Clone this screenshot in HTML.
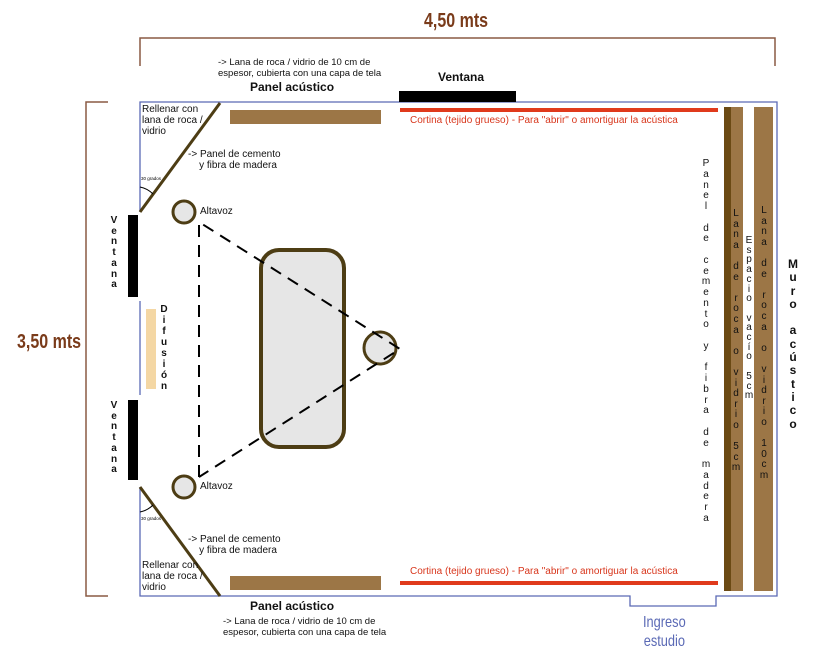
<!DOCTYPE html>
<html><head><meta charset="utf-8"><style>
html,body{margin:0;padding:0;background:#fff;}
#c{position:relative;width:840px;height:662px;overflow:hidden;font-family:"Liberation Sans",sans-serif;}
svg{position:absolute;left:0;top:0;}
.t{position:absolute;font-size:10.5px;color:#111;line-height:12px;white-space:nowrap;}
.v{position:absolute;white-space:pre;text-align:center;font-size:10px;width:14px;color:#111;}
.vb{font-weight:bold;}
.dim{position:absolute;font-family:"Liberation Sans",sans-serif;font-weight:bold;color:#7a3b1a;font-size:20px;transform:scaleX(0.8);transform-origin:0 0;white-space:nowrap;}
.red{position:absolute;color:#d8361c;font-size:10.5px;white-space:nowrap;}
</style></head><body><div id="c">
<svg width="840" height="662">
<path d="M140 66 V38 H775 V66" fill="none" stroke="#8a5a44" stroke-width="1.5"/>
<path d="M108 102 H86 V596 H108" fill="none" stroke="#8a5a44" stroke-width="1.5"/>
<path d="M140 212 V102 H777 V596 H716 V606 H630 V596 H140 V487" fill="none" stroke="#5a69b5" stroke-width="1.3"/>
<line x1="140" y1="301" x2="140" y2="395" stroke="#5a69b5" stroke-width="1.3"/>
<line x1="140" y1="212" x2="220" y2="103" stroke="#4d3d14" stroke-width="3"/>
<line x1="140" y1="487" x2="220" y2="596" stroke="#4d3d14" stroke-width="3"/>
<path d="M140 187 A25 25 0 0 1 153 194" fill="none" stroke="#000" stroke-width="1"/>
<path d="M140 512 A25 25 0 0 0 153 505" fill="none" stroke="#000" stroke-width="1"/>
<rect x="230" y="110" width="151" height="14" fill="#9c7646"/>
<rect x="230" y="576" width="151" height="14" fill="#9c7646"/>
<rect x="399" y="91" width="117" height="11" fill="#000"/>
<rect x="128" y="215" width="10" height="82" fill="#000"/>
<rect x="128" y="400" width="10" height="80" fill="#000"/>
<rect x="146" y="309" width="10" height="80" fill="#f4d7a4"/>
<rect x="400" y="108" width="318" height="4" fill="#e03a1c"/>
<rect x="400" y="581" width="318" height="4" fill="#e03a1c"/>
<rect x="724" y="107" width="7" height="484" fill="#6b4a14"/>
<rect x="731" y="107" width="12" height="484" fill="#9c7646"/>
<rect x="754" y="107" width="19" height="484" fill="#9c7646"/>
<rect x="261" y="250" width="83" height="197" rx="18" fill="#e6e6e6" stroke="#4d3d14" stroke-width="4"/>
<circle cx="184" cy="212" r="11" fill="#e6e6e6" stroke="#4d3d14" stroke-width="3"/>
<circle cx="184" cy="487" r="11" fill="#e6e6e6" stroke="#4d3d14" stroke-width="3"/>
<circle cx="380" cy="348" r="16" fill="#e6e6e6" stroke="#4d3d14" stroke-width="3"/>
<path d="M199 477 V222 L400 349 L199 477" fill="none" stroke="#000" stroke-width="2" stroke-dasharray="12,8"/>
<text x="141" y="180" font-size="4.5" font-family="Liberation Sans">30 grados</text>
<text x="141" y="520" font-size="4.5" font-family="Liberation Sans">30 grados</text>
</svg>
<div class="dim" style="left:424px;top:10px;">4,50 mts</div>
<div class="dim" style="left:17px;top:331px;">3,50 mts</div>
<div class="t" style="left:218px;top:57px;font-size:9.5px;line-height:11px;">-&gt; Lana de roca / vidrio de 10 cm de<br>espesor, cubierta con una capa de tela</div>
<div class="t" style="left:250px;top:81px;font-weight:bold;font-size:12px;">Panel acústico</div>
<div class="t" style="left:438px;top:71px;font-weight:bold;font-size:12px;">Ventana</div>
<div class="t" style="left:142px;top:104px;line-height:11px;font-size:10px;">Rellenar con<br>lana de roca /<br>vidrio</div>
<div class="t" style="left:188px;top:149px;line-height:11px;font-size:10px;">-&gt; Panel de cemento<br>&nbsp;&nbsp;&nbsp;&nbsp;y fibra de madera</div>
<div class="t" style="left:200px;top:206px;font-size:10px;">Altavoz</div>
<div class="t" style="left:200px;top:481px;font-size:10px;">Altavoz</div>
<div class="t" style="left:188px;top:534px;line-height:11px;font-size:10px;">-&gt; Panel de cemento<br>&nbsp;&nbsp;&nbsp;&nbsp;y fibra de madera</div>
<div class="t" style="left:142px;top:560px;line-height:11px;font-size:10px;">Rellenar con<br>lana de roca /<br>vidrio</div>
<div class="t" style="left:250px;top:600px;font-weight:bold;font-size:12px;">Panel acústico</div>
<div class="t" style="left:223px;top:616px;font-size:9.5px;line-height:11px;">-&gt; Lana de roca / vidrio de 10 cm de<br>espesor, cubierta con una capa de tela</div>
<div class="red" style="left:410px;top:115px;font-size:10px;">Cortina (tejido grueso) - Para "abrir" o amortiguar la acústica</div>
<div class="red" style="left:410px;top:566px;font-size:10px;">Cortina (tejido grueso) - Para "abrir" o amortiguar la acústica</div>
<div style="position:absolute;left:643px;top:613px;color:#5a69b5;font-size:16px;line-height:19px;text-align:center;transform:scaleX(0.8);transform-origin:0 0;">Ingreso<br>estudio</div>
<div class="v vb" style="left:107px;top:216px;line-height:10.7px;">V
e
n
t
a
n
a</div>
<div class="v vb" style="left:107px;top:401px;line-height:10.7px;">V
e
n
t
a
n
a</div>
<div class="v vb" style="left:157px;top:304px;line-height:11px;">D
i
f
u
s
i
ó
n</div>
<div class="v" style="left:699px;top:159px;line-height:10.75px;">P
a
n
e
l

d
e

c
e
m
e
n
t
o

y

f
i
b
r
a

d
e

m
a
d
e
r
a</div>
<div class="v" style="left:729px;top:209px;line-height:10.6px;">L
a
n
a

d
e

r
o
c
a

o

v
i
d
r
i
o

5
c
m</div>
<div class="v" style="left:742px;top:236px;line-height:9.7px;">E
s
p
a
c
i
o

v
a
c
í
o

5
c
m</div>
<div class="v" style="left:757px;top:206px;line-height:10.6px;">L
a
n
a

d
e

r
o
c
a

o

v
i
d
r
i
o

1
0
c
m</div>
<div class="v vb" style="left:786px;top:258px;line-height:13.3px;font-size:12px;">M
u
r
o

a
c
ú
s
t
i
c
o</div>
</div></body></html>
